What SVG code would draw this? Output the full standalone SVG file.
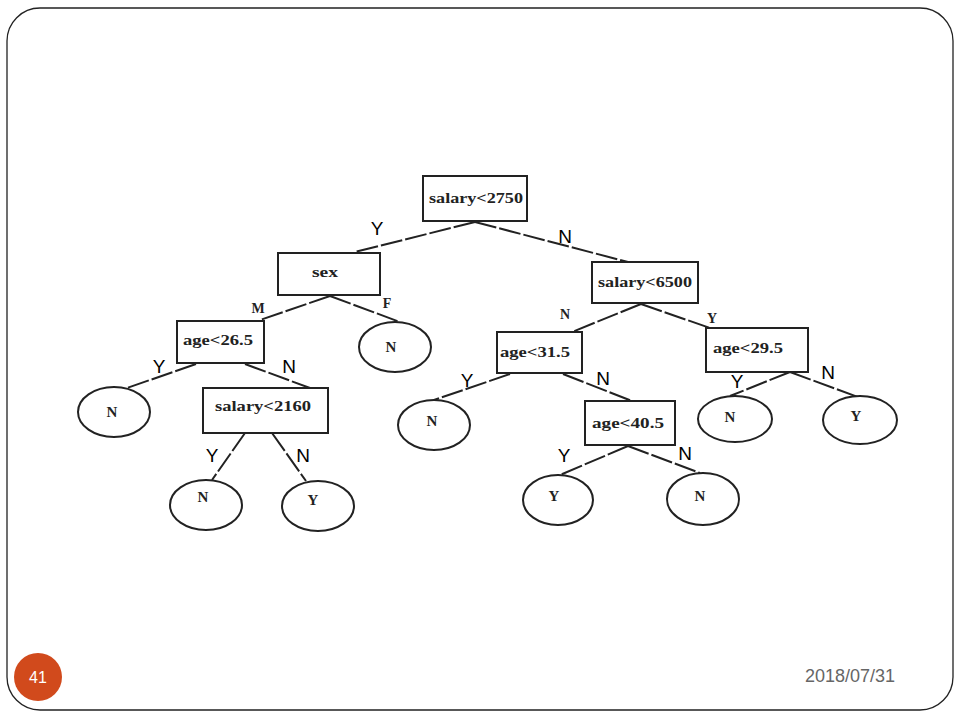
<svg xmlns="http://www.w3.org/2000/svg" width="960" height="720" viewBox="0 0 960 720">
<style>
.box{fill:#fff;stroke:#222;stroke-width:2}
.leaf{fill:#fff;stroke:#222;stroke-width:2}
.nt{font-family:"Liberation Serif",serif;font-weight:bold;font-size:15px;fill:#222;text-anchor:middle}
.lt{font-family:"Liberation Serif",serif;font-weight:bold;font-size:15px;fill:#222;text-anchor:middle}
.yn{font-family:"Liberation Sans",sans-serif;font-size:19px;fill:#000;text-anchor:middle}
.sm{font-family:"Liberation Serif",serif;font-weight:bold;font-size:14px;fill:#222;text-anchor:middle}
.edge{stroke:#222;stroke-width:2;fill:none;stroke-dasharray:22 3}
</style>
<rect x="0" y="0" width="960" height="720" fill="#fff"/>
<rect x="7" y="8" width="946" height="702" rx="33" ry="33" fill="#fff" stroke="#222" stroke-width="1.3"/>

<g id="connectors">
<line class="edge" x1="475" y1="222" x2="355" y2="252"/>
<line class="edge" x1="475" y1="222" x2="628" y2="262"/>
<line class="edge" x1="330" y1="296" x2="260" y2="320"/>
<line class="edge" x1="330" y1="296" x2="400" y2="322"/>
<line class="edge" x1="641" y1="304" x2="572" y2="332"/>
<line class="edge" x1="641" y1="304" x2="710" y2="328"/>
<line class="edge" x1="196" y1="364" x2="127" y2="388"/>
<line class="edge" x1="245" y1="364" x2="310" y2="388"/>
<line class="edge" x1="245" y1="433" x2="212" y2="480"/>
<line class="edge" x1="272" y1="433" x2="306" y2="481"/>
<line class="edge" x1="510" y1="374" x2="434" y2="400"/>
<line class="edge" x1="563" y1="374" x2="632" y2="401"/>
<line class="edge" x1="790" y1="372" x2="730" y2="396"/>
<line class="edge" x1="790" y1="372" x2="858" y2="397"/>
<line class="edge" x1="628" y1="446" x2="560" y2="475"/>
<line class="edge" x1="628" y1="446" x2="700" y2="473"/>
</g>

<g id="n-root"><rect class="box" x="423" y="176" width="104" height="45"/><text class="nt" x="476" y="203" textLength="94" lengthAdjust="spacingAndGlyphs">salary&lt;2750</text></g>
<g id="n-sex"><rect class="box" x="278" y="253" width="102" height="42"/><text class="nt" x="325" y="277" textLength="26" lengthAdjust="spacingAndGlyphs">sex</text></g>
<g id="n-sal6500"><rect class="box" x="592" y="262" width="106" height="41"/><text class="nt" x="645" y="287" textLength="94" lengthAdjust="spacingAndGlyphs">salary&lt;6500</text></g>
<g id="n-age265"><rect class="box" x="177" y="321" width="87" height="42"/><text class="nt" x="218" y="345" textLength="70" lengthAdjust="spacingAndGlyphs">age&lt;26.5</text></g>
<g id="n-sal2160"><rect class="box" x="203" y="388" width="125" height="45"/><text class="nt" x="263" y="411" textLength="96" lengthAdjust="spacingAndGlyphs">salary&lt;2160</text></g>
<g id="n-age315"><rect class="box" x="497" y="332" width="85" height="41"/><text class="nt" x="535" y="357" textLength="70" lengthAdjust="spacingAndGlyphs">age&lt;31.5</text></g>
<g id="n-age295"><rect class="box" x="706" y="328" width="102" height="44"/><text class="nt" x="748" y="353" textLength="70" lengthAdjust="spacingAndGlyphs">age&lt;29.5</text></g>
<g id="n-age405"><rect class="box" x="585" y="401" width="90" height="44"/><text class="nt" x="628" y="428" textLength="72" lengthAdjust="spacingAndGlyphs">age&lt;40.5</text></g>

<g id="l-sexF"><ellipse class="leaf" cx="395" cy="347" rx="36" ry="25"/><text class="lt" x="391" y="352">N</text></g>
<g id="l-age265Y"><ellipse class="leaf" cx="114" cy="412" rx="36" ry="25"/><text class="lt" x="112" y="417">N</text></g>
<g id="l-sal2160Y"><ellipse class="leaf" cx="206" cy="505" rx="36" ry="25"/><text class="lt" x="203" y="502">N</text></g>
<g id="l-sal2160N"><ellipse class="leaf" cx="318" cy="506" rx="36" ry="25"/><text class="lt" x="313" y="505">Y</text></g>
<g id="l-age315Y"><ellipse class="leaf" cx="434" cy="425" rx="36" ry="25"/><text class="lt" x="432" y="426">N</text></g>
<g id="l-age405Y"><ellipse class="leaf" cx="558" cy="500" rx="35" ry="25"/><text class="lt" x="554" y="501">Y</text></g>
<g id="l-age405N"><ellipse class="leaf" cx="703" cy="499" rx="36" ry="26"/><text class="lt" x="700" y="501">N</text></g>
<g id="l-age295Y"><ellipse class="leaf" cx="735" cy="419" rx="37" ry="23"/><text class="lt" x="730" y="422">N</text></g>
<g id="l-age295N"><ellipse class="leaf" cx="860" cy="420" rx="37" ry="24"/><text class="lt" x="856" y="421">Y</text></g>

<g id="labels">
<text class="yn" x="377" y="235">Y</text>
<text class="yn" x="565" y="243">N</text>
<text class="sm" x="258" y="313">M</text>
<text class="sm" x="387" y="308">F</text>
<text class="sm" x="565" y="319">N</text>
<text class="sm" x="712" y="323">Y</text>
<text class="yn" x="159" y="373">Y</text>
<text class="yn" x="289" y="373">N</text>
<text class="yn" x="467" y="387">Y</text>
<text class="yn" x="603" y="385">N</text>
<text class="yn" x="737" y="388">Y</text>
<text class="yn" x="828" y="379">N</text>
<text class="yn" x="212" y="462">Y</text>
<text class="yn" x="303" y="462">N</text>
<text class="yn" x="564" y="462">Y</text>
<text class="yn" x="685" y="460">N</text>
</g>

<g id="footer">
<circle cx="38" cy="677" r="24" fill="#D14A1C"/>
<text x="38" y="683" font-family="Liberation Sans, sans-serif" font-size="16" fill="#fff" text-anchor="middle">41</text>
<text x="850" y="682" font-family="Liberation Sans, sans-serif" font-size="18" fill="#666" text-anchor="middle">2018/07/31</text>
</g>
</svg>
